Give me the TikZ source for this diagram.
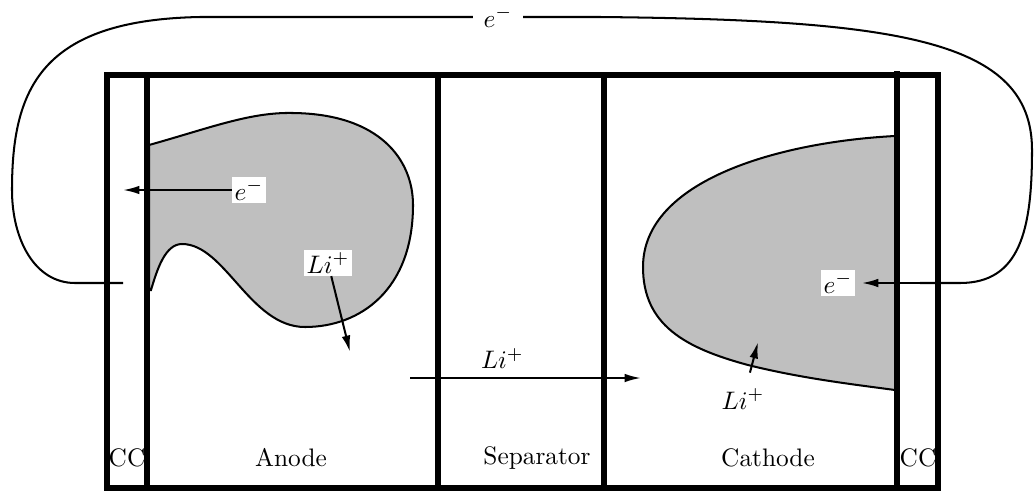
\documentclass[tikz,border=0pt]{standalone}
\usetikzlibrary{arrows.meta}
\begin{document}
\begin{tikzpicture}[x=0.395pt,y=-0.395pt,
  wall/.style={line width=2pt},
  wire/.style={thick},
  flow/.style={thick,-{Latex[length=6.5pt,width=3.4pt]}},
  mass/.style={fill=lightgray,draw=black,thick},
  tag/.style={fill=white,inner sep=1pt},
]
\useasboundingbox (0,0) rectangle (1035,490);

% active material of the anode
\path[mass] (149,145) .. controls (210,128) and (250,112) .. (293,113)
  .. controls (380,114) and (413,160) .. (413,205)
  .. controls (413,290) and (360,327) .. (305,327)
  .. controls (250,327) and (225,244) .. (182,244)
  .. controls (165,244) and (157,270) .. (151,290) -- (149,290) -- cycle;

% active material of the cathode
\path[mass] (895,136) .. controls (780,142) and (643,180) .. (643,267)
  .. controls (643,325) and (685,348) .. (748,365)
  .. controls (800,378) and (850,384) .. (895,390) -- cycle;

% cell housing and layer boundaries
\draw[wall] (107,75) rectangle (938,488);
\draw[wall] (147,75) -- (147,488);
\draw[wall] (438,75) -- (438,488);
\draw[wall] (604,75) -- (604,488);
\draw[wall] (897,71) -- (897,488);

% layer names
\node (cc1) at (127,458) {CC};
\node (anode) at (291,458) {Anode};
\node (sep) at (537,458) {Separator};
\node (cath) at (768,458) {Cathode};
\node (cc2) at (918,458) {CC};

% external circuit
\node[inner sep=4pt] (etop) at (498,17) {$e^-$};
\coordinate (wl) at (123,283);
\coordinate (wr) at (920,283);
\draw[wire] (wl) -- (75,283) .. controls (35,283) and (12,240) .. (12,190)
  .. controls (12,90) and (40,20) .. (200,17) -- (etop.west);
\draw[wire] (etop.east) -- (600,17) .. controls (900,20) and (1032,40) .. (1032,150)
  .. controls (1032,230) and (1020,283) .. (960,283) -- (wr);

% electron flow
\node[tag] (e1) at (249,190) {$e^-$};
\coordinate (e1t) at (123,190);
\draw[flow] (e1) -- (e1t);

\node[tag] (e2) at (838,283) {$e^-$};
\draw[flow,shorten >=2.5pt] (wr) -- (e2);

% lithium ion flow
\node[tag] (li1) at (328,263) {$Li^+$};
\coordinate (li1t) at (350,352);
\draw[flow] (li1) -- (li1t);

\coordinate (s1) at (410,378);
\coordinate (s2) at (641,378);
\draw[flow] (s1) -- node[above,pos=0.4] (li0) {$Li^+$} (s2);

\node (li2) at (743,399) {$Li^+$};
\coordinate (li2t) at (758,342);
\draw[flow,shorten <=3pt] (li2) -- (li2t);
\end{tikzpicture}
\end{document}
